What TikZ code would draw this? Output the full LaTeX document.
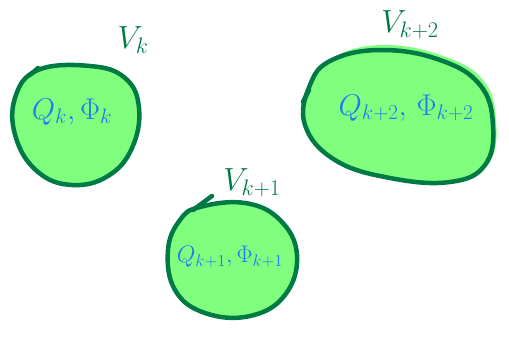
\RequirePackage{fix-cm}
\documentclass[tikz,border=0pt]{standalone}
\usetikzlibrary{calc}
\definecolor{edgegreen}{HTML}{007A45}
\definecolor{fillgreen}{HTML}{80FF7E}
\definecolor{inkblue}{HTML}{1F7BF0}
\tikzset{
  blob/.style={draw=edgegreen, line width=4.5pt, fill=fillgreen, line join=round},
  vlabel/.style={text=edgegreen, font=\fontsize{32}{34}\selectfont, inner sep=0pt},
  inner/.style={text=inkblue, font=\fontsize{30}{32}\selectfont, inner sep=0pt},
  tick/.style={draw=edgegreen, line width=4.5pt, line cap=round}
}
\begin{document}
\begin{tikzpicture}[x=1pt,y=-1pt]
\useasboundingbox (0,0) rectangle (509,337);
% blob k
\path[blob] plot[smooth cycle, tension=0.7] coordinates {(38,70) (90,66) (125,78) (139,108) (132,148) (108,176) (72,185) (38,172) (16,138) (15,98)};
\coordinate (t1a) at (30,75); \coordinate (t1b) at (38,68);
\draw[tick] (t1a) -- (t1b);
\node[vlabel] (v1) at (133,40) {$V_k$};
\node[inner] (q1) at (72,112) {$Q_k,\Phi_k$};
% blob k+2
\path[fill=fillgreen] plot[smooth cycle, tension=0.7] coordinates {(336,56) (385,45) (443,56) (483,80) (496,120) (489,163) (453,180) (393,176) (338,158) (308,123) (313,83)};
\path[blob] plot[smooth cycle, tension=0.7] coordinates {(332,60) (382,50) (440,60) (480,85) (493,125) (485,165) (450,182) (390,178) (335,160) (305,125) (310,85)};
\coordinate (t2a) at (303,102); \coordinate (t2b) at (309,90);
\draw[tick] (t2a) -- (t2b);
\node[vlabel] (v2) at (410,25) {$V_{k+2}$};
\node[inner] (q2) at (406,108) {$Q_{k+2},\,\Phi_{k+2}$};
% blob k+1
\path[blob] plot[smooth cycle, tension=0.7] coordinates {(200,207) (245,203) (280,220) (297,255) (285,295) (250,316) (205,313) (175,290) (168,250) (180,220)};
\coordinate (t3a) at (193,210); \coordinate (t3b) at (212,196);
\draw[tick] (t3a) -- (t3b);
\node[vlabel] (v3) at (252,183) {$V_{k+1}$};
\node[inner, font=\fontsize{24}{26}\selectfont] (q3) at (230,257) {$Q_{k+1},\Phi_{k+1}$};
\end{tikzpicture}
\end{document}
